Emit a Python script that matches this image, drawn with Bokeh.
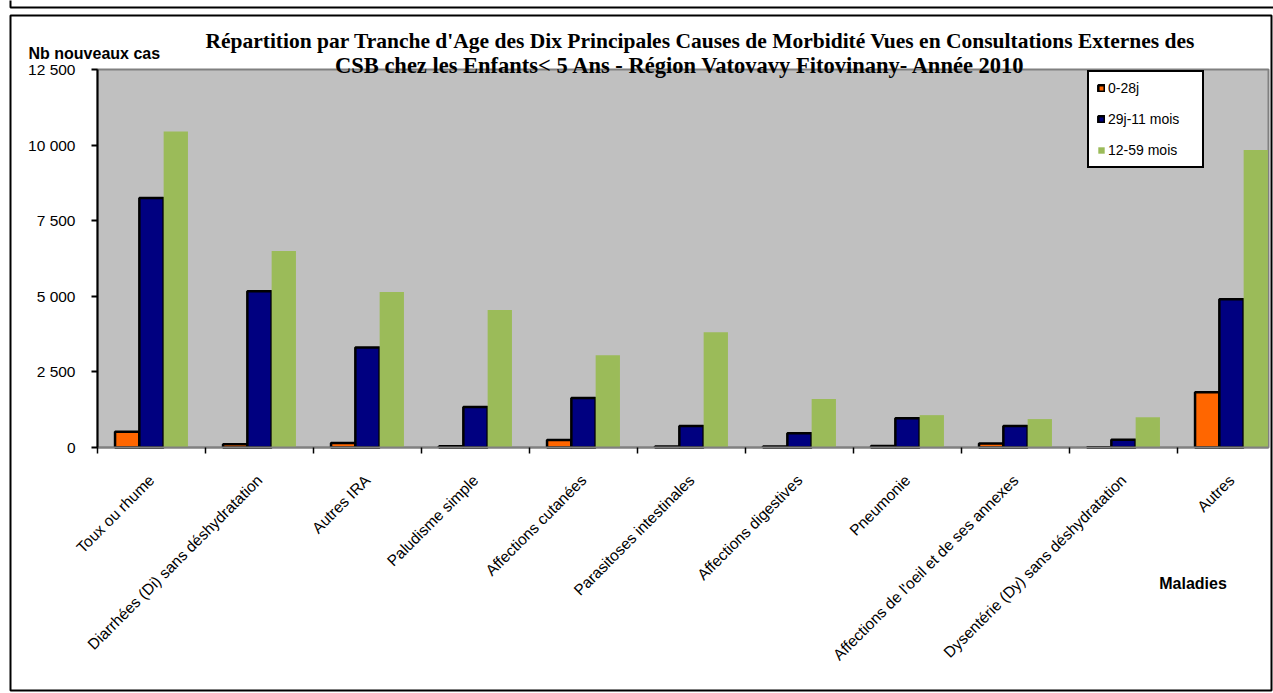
import math
from bokeh.plotting import figure
from bokeh.models import Range1d, FixedTicker, Legend, LegendItem, ColumnDataSource, Label, BoxAnnotation
from bokeh.embed import file_html
from bokeh.resources import INLINE

categories = [
    "Toux ou rhume",
    "Diarrhées (Di) sans déshydratation",
    "Autres IRA",
    "Paludisme simple",
    "Affections cutanées",
    "Parasitoses intestinales",
    "Affections digestives",
    "Pneumonie",
    "Affections de l'oeil et de ses annexes",
    "Dysentérie (Dy) sans déshydratation",
    "Autres",
]
age_0_28j = [520, 110, 150, 40, 250, 30, 30, 50, 130, 5, 1830]
age_29j_11m = [8250, 5170, 3310, 1340, 1640, 710, 470, 970, 710, 260, 4900]
age_12_59m = [10450, 6500, 5140, 4550, 3050, 3810, 1600, 1070, 940, 1000, 9840]
series_names = ["0-28j", "29j-11 mois", "12-59 mois"]
y_ticks = [0, 2500, 5000, 7500, 10000, 12500]

title_line1 = "Répartition par Tranche d'Age des Dix Principales Causes de Morbidité Vues en Consultations Externes des"
title_line2 = "CSB chez les Enfants< 5 Ans - Région Vatovavy Fitovinany- Année  2010"
y_label = "Nb nouveaux cas"
x_label = "Maladies"

colors = ["#FF6600", "#000080", "#9BBB59"]
outlines = ["black", "black", None]
offsets = [-0.225, 0.0, 0.225]
bar_w = 0.225

# ---- page geometry (pixels) ----
W, H = 1273, 693
PX_LEFT, PX_RIGHT, PX_TOP, PX_BOTTOM = 97, 1268, 69, 447
CAT_PX = 108

n = len(categories)
centers = list(range(n))
y_max = y_ticks[-1]


def xd(px):
    return -0.5 + (px - PX_LEFT) / CAT_PX


def yd(py):
    return (PX_BOTTOM - py) * y_max / (PX_BOTTOM - PX_TOP)


p = figure(
    width=W, height=H,
    x_range=Range1d(xd(0), xd(W)),
    y_range=Range1d(yd(H), yd(0)),
    output_backend="svg", toolbar_location=None,
    min_border_left=0, min_border_right=0, min_border_top=0, min_border_bottom=0,
)
p.title.visible = False
p.xgrid.visible = False
p.ygrid.visible = False
p.background_fill_color = "white"
p.border_fill_color = "white"
p.outline_line_color = None

# outer chart frames
p.add_layout(BoxAnnotation(left=xd(10), right=xd(1290), top=yd(-20), bottom=yd(7),
                           fill_alpha=0, line_color="black", line_alpha=1, line_width=2,
                           level="underlay"))
p.add_layout(BoxAnnotation(left=xd(10), right=xd(1271), top=yd(15), bottom=yd(690),
                           fill_alpha=0, line_color="black", line_alpha=1, line_width=2,
                           level="underlay"))
# plot area
p.add_layout(BoxAnnotation(left=-0.5, right=xd(PX_RIGHT), bottom=0, top=y_max,
                           fill_color="#C0C0C0", fill_alpha=1, line_color="#808080",
                           line_alpha=1, line_width=2, level="underlay"))

# x axis
xa = p.xaxis[0]
xa.fixed_location = 0
xa.bounds = (-0.5, xd(PX_RIGHT))
xa.ticker = FixedTicker(ticks=centers, minor_ticks=[c - 0.5 for c in centers] + [n - 0.5])
xa.major_label_overrides = {c: name for c, name in zip(centers, categories)}
xa.major_label_orientation = math.pi / 4
xa.major_tick_out = 0
xa.major_tick_in = 0
xa.minor_tick_out = 6
xa.minor_tick_in = 0
xa.minor_tick_line_color = "black"
xa.minor_tick_line_width = 1.5
xa.axis_line_color = "#808080"
xa.axis_line_width = 2
xa.major_label_text_font = "Liberation Sans"
xa.major_label_text_font_size = "15.5px"
xa.major_label_text_color = "black"
xa.major_label_standoff = 24

# y axis
ya = p.yaxis[0]
ya.fixed_location = -0.5
ya.bounds = (0, y_max)
ya.ticker = FixedTicker(ticks=y_ticks)
ya.major_label_overrides = {v: f"{v:,}".replace(",", " ") for v in y_ticks}
ya.major_tick_out = 6
ya.major_tick_in = 0
ya.minor_tick_out = 0
ya.minor_tick_in = 0
ya.axis_line_color = "black"
ya.axis_line_width = 2
ya.major_tick_line_width = 2
ya.major_label_text_font = "Liberation Sans"
ya.major_label_text_font_size = "15.5px"
ya.major_label_text_color = "black"
ya.major_label_standoff = 16

renderers = []
for vals, col, oc, off in zip([age_0_28j, age_29j_11m, age_12_59m], colors, outlines, offsets):
    src = ColumnDataSource(dict(x=[c + off for c in centers], top=vals))
    r = p.vbar(x="x", top="top", bottom=0, width=bar_w, source=src,
               fill_color=col, line_color=oc, line_width=2.5 if oc else 0)
    renderers.append(r)

legend = Legend(
    items=[LegendItem(label=nm, renderers=[r]) for nm, r in zip(series_names, renderers)],
    location=(1087, H - 168),
    border_line_color="black", border_line_alpha=1, border_line_width=2,
    background_fill_color="white", background_fill_alpha=1,
    glyph_width=8, glyph_height=8, label_height=16, label_width=86, spacing=15, padding=8,
    label_standoff=3, label_text_font="Liberation Sans", label_text_font_size="14px",
    label_text_color="black", margin=0,
)
p.add_layout(legend, "center")

title_style = dict(text_font="Liberation Serif", text_font_style="bold",
                   text_color="black", text_align="center", text_baseline="alphabetic")
p.add_layout(Label(x=xd(700), y=yd(40.5), text=title_line1, text_font_size="21.5px", **title_style))
p.add_layout(Label(x=xd(683), y=yd(65), text=title_line2, text_font_size="22.5px", **title_style))

cap_style = dict(text_font="Liberation Sans", text_font_style="bold", text_font_size="16px",
                 text_color="black", text_baseline="alphabetic")
p.add_layout(Label(x=xd(28), y=yd(52.5), text=y_label, text_align="left", **cap_style))
p.add_layout(Label(x=xd(1192.5), y=yd(583), text=x_label, text_align="center", **cap_style))

open("out.html", "w").write(file_html(p, INLINE))
